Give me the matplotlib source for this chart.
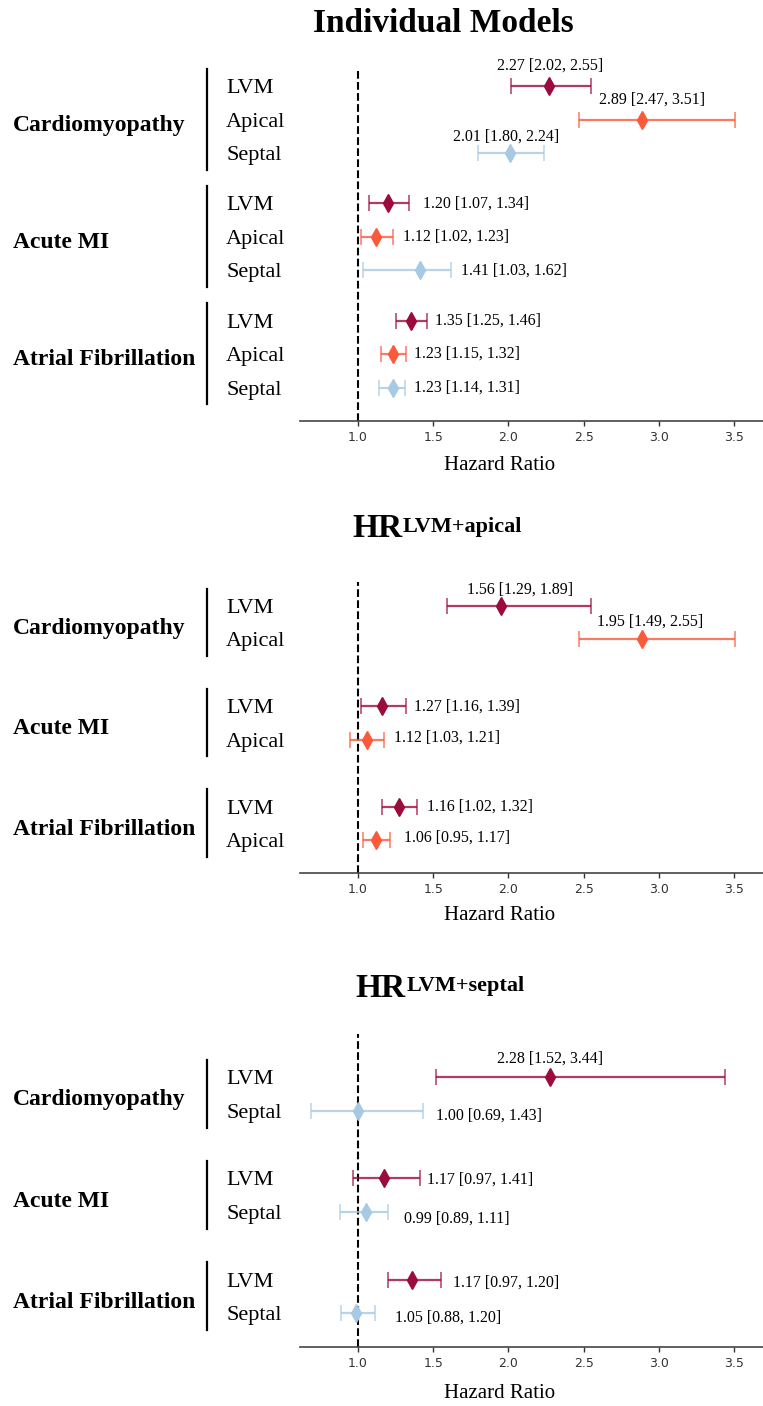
import matplotlib.pyplot as plt
import matplotlib.transforms as mtransforms

W, H, DPI = 763, 1406, 100
SERIF = 'Liberation Serif'

groups = ['Cardiomyopathy', 'Acute MI', 'Atrial Fibrillation']
colors = {'LVM': '#9b0b3d', 'Apical': '#fb5a3a', 'Septal': '#a8c9e3'}

# Individual models
rows1 = ['LVM', 'Apical', 'Septal'] * 3
hr1 = [2.27, 2.89, 2.01, 1.20, 1.12, 1.41, 1.35, 1.23, 1.23]
lo1 = [2.02, 2.47, 1.80, 1.07, 1.02, 1.03, 1.25, 1.15, 1.14]
hi1 = [2.55, 3.51, 2.24, 1.34, 1.23, 1.62, 1.46, 1.32, 1.31]
txt1 = ['2.27 [2.02, 2.55]', '2.89 [2.47, 3.51]', '2.01 [1.80, 2.24]',
        '1.20 [1.07, 1.34]', '1.12 [1.02, 1.23]', '1.41 [1.03, 1.62]',
        '1.35 [1.25, 1.46]', '1.23 [1.15, 1.32]', '1.23 [1.14, 1.31]']

# HR LVM + apical (points as drawn in the figure)
rows2 = ['LVM', 'Apical'] * 3
hr2 = [1.95, 2.89, 1.16, 1.06, 1.27, 1.12]
lo2 = [1.59, 2.47, 1.02, 0.95, 1.16, 1.03]
hi2 = [2.55, 3.51, 1.32, 1.17, 1.39, 1.21]
txt2 = ['1.56 [1.29, 1.89]', '1.95 [1.49, 2.55]',
        '1.27 [1.16, 1.39]', '1.12 [1.03, 1.21]',
        '1.16 [1.02, 1.32]', '1.06 [0.95, 1.17]']

# HR LVM + septal
rows3 = ['LVM', 'Septal'] * 3
hr3 = [2.28, 1.00, 1.17, 1.05, 1.36, 0.99]
lo3 = [1.52, 0.69, 0.97, 0.88, 1.20, 0.89]
hi3 = [3.44, 1.43, 1.41, 1.20, 1.55, 1.11]
txt3 = ['2.28 [1.52, 3.44]', '1.00 [0.69, 1.43]',
        '1.17 [0.97, 1.41]', '0.99 [0.89, 1.11]',
        '1.17 [0.97, 1.20]', '1.05 [0.88, 1.20]']

xticks = [1.0, 1.5, 2.0, 2.5, 3.0, 3.5]

# layout: (anchor mode, dx px, dy px) for each annotation
ann1 = [('c', 1, 20), ('c', 10, 20), ('c', -4, 16),
        ('r', 14, 0), ('r', 10, 0), ('r', 10, 0),
        ('r', 8, 0), ('r', 8, 0), ('r', 9, 0)]
ann2 = [('c', 19, 16), ('c', 8, 18),
        ('r', 8, 0), ('r', 10, 2),
        ('r', 10, 0), ('r', 14, 2)]
ann3 = [('c', 0, 19), ('r', 13, -5),
        ('r', 7, -1), ('r', 16, -7),
        ('r', 12, -3), ('r', 20, -4)]

fig = plt.figure(figsize=(W / DPI, H / DPI), dpi=DPI)


def panel(top, bottom, ypos, ytop, ybot, rows, hr, lo, hi, txt, ann, nper, xlab_y):
    ax = fig.add_axes([300 / W, 1 - bottom / H, 463 / W, (bottom - top) / H])
    ax.set_xlim(0.6144, 3.693)
    ax.set_ylim(ybot, ytop)
    ax.axvline(1.0, color='black', ls='--', lw=1.5, zorder=1)
    for i in range(len(hr)):
        c = colors[rows[i]]
        ax.errorbar(hr[i], ypos[i], xerr=[[hr[i] - lo[i]], [hi[i] - hr[i]]], fmt='none',
                    ecolor=c, elinewidth=1.6, capsize=5.5, capthick=1.1, alpha=0.8, zorder=2)
        ax.plot(hr[i], ypos[i], marker='d', color=c, markersize=9, zorder=3)
        mode, dx, dy = ann[i]
        if mode == 'c':
            ax.annotate(txt[i], (hr[i], ypos[i]), xytext=(dx, dy), textcoords='offset pixels',
                        ha='center', va='center', fontsize=11.5, family=SERIF)
        else:
            ax.annotate(txt[i], (hi[i], ypos[i]), xytext=(dx, dy), textcoords='offset pixels',
                        ha='left', va='center', fontsize=11.5, family=SERIF)
    for s in ['top', 'right', 'left']:
        ax.spines[s].set_visible(False)
    ax.spines['bottom'].set_color('#444444')
    ax.spines['bottom'].set_linewidth(1.2)
    ax.set_yticks([])
    ax.set_xticks(xticks)
    ax.tick_params(axis='x', labelsize=9, colors='#333333', length=3.5, width=1)
    # row and group labels on the left
    tr = mtransforms.blended_transform_factory(fig.transFigure, ax.transData)
    for i, r in enumerate(rows):
        ax.text(226 / W, ypos[i], r, transform=tr, fontsize=16, family=SERIF,
                ha='left', va='center_baseline', clip_on=False)
    for g in range(3):
        ys = ypos[g * nper:(g + 1) * nper]
        ax.text(13 / W, (ys[0] + ys[-1]) / 2 + 0.1, groups[g], transform=tr, fontsize=17,
                family=SERIF, weight='bold', ha='left', va='center_baseline', clip_on=False)
        ax.plot([207 / W, 207 / W], [ys[0] - 0.52, ys[-1] + 0.5], transform=tr,
                color='black', lw=1.6, clip_on=False)
    fig.text(500 / W, 1 - xlab_y / H, 'Hazard Ratio', ha='center', va='center',
             fontsize=15, family=SERIF)
    return ax


panel(70, 421, [0, 1, 2, 3.5, 4.5, 5.5, 7, 8, 9], -0.48, 10.0,
      rows1, hr1, lo1, hi1, txt1, ann1, 3, 465)
panel(582, 873, [0, 1, 3, 4, 6, 7], -0.72, 7.99,
      rows2, hr2, lo2, hi2, txt2, ann2, 2, 915)
panel(1034, 1347, [0, 1, 3, 4, 6, 7], -1.28, 8.0,
      rows3, hr3, lo3, hi3, txt3, ann3, 2, 1394)

fig.text(443 / W, 1 - 24 / H, 'Individual Models', ha='center', va='center',
         fontsize=24, weight='bold', family=SERIF)
fig.text(402 / W, 1 - 537 / H, 'HR', ha='right', va='baseline',
         fontsize=24, weight='bold', family=SERIF)
fig.text(403 / W, 1 - 517 / H, 'LVM+apical', ha='left', va='top',
         fontsize=16, weight='bold', family=SERIF)
fig.text(406 / W, 1 - 997 / H, 'HR', ha='right', va='baseline',
         fontsize=24, weight='bold', family=SERIF)
fig.text(407 / W, 1 - 976 / H, 'LVM+septal', ha='left', va='top',
         fontsize=16, weight='bold', family=SERIF)

fig.savefig('out.png', dpi=DPI)
